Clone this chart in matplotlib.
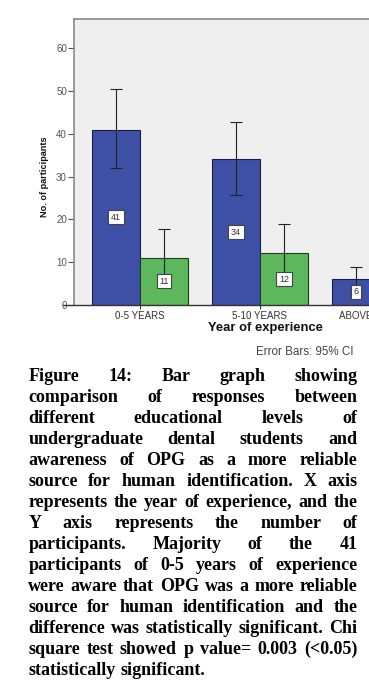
import numpy as np
import matplotlib
matplotlib.use('Agg')
import matplotlib.pyplot as plt
from matplotlib.font_manager import FontProperties

# ---------------------------
# Data
# ---------------------------
categories = ['0-5 YEARS', '5-10 YEARS', 'ABOVE 10 YEARS']
aware = [41, 34, 6]          # blue bars
not_aware = [11, 12, 3]      # green bars (third one is cropped out)
aware_ci_low = [32.0, 25.7, 2.8]
aware_ci_high = [50.6, 42.8, 8.9]
not_aware_ci_low = [4.2, 5.1, 0.5]
not_aware_ci_high = [17.8, 18.9, 7.0]
y_ticks = [0, 10, 20, 30, 40, 50, 60]

caption_lines = [
    'Figure 14: Bar graph showing',
    'comparison of responses between',
    'different educational levels of',
    'undergraduate dental students and',
    'awareness of OPG as a more reliable',
    'source for human identification. X axis',
    'represents the year of experience, and the',
    'Y axis represents the number of',
    'participants. Majority of the 41',
    'participants of 0-5 years of experience',
    'were aware that OPG was a more reliable',
    'source for human identification and the',
    'difference was statistically significant. Chi',
    'square test showed p value= 0.003 (<0.05)',
    'statistically significant.',
]

# ---------------------------
# Figure / axes
# ---------------------------
W, H = 369, 684
plt.rcParams['font.family'] = ['Liberation Sans', 'DejaVu Sans']
fig = plt.figure(figsize=(W / 100, H / 100), dpi=100)
# the axes run past the right edge: the original is a cropped screenshot
ax = fig.add_axes([74 / W, 1 - 304.7 / H, 372 / W, 286.2 / H])
ax.set_facecolor('#EFEFEF')

blue = '#3E50A6'
green = '#5DB75D'
x = np.arange(len(categories))
w = 0.4

ax.bar(x - w / 2, aware, w, color=blue, edgecolor='#1E1E3C', linewidth=0.8, zorder=2)
ax.bar(x + w / 2, not_aware, w, color=green, edgecolor='#1E3C1E', linewidth=0.8, zorder=2)

def add_errbars(xs, vals, lo, hi):
    vals = np.array(vals, dtype=float)
    yerr = [vals - np.array(lo), np.array(hi) - vals]
    ax.errorbar(xs, vals, yerr=yerr, fmt='none', ecolor='#222222',
                elinewidth=0.8, capsize=4.3, capthick=0.8, zorder=3)

add_errbars(x - w / 2, aware, aware_ci_low, aware_ci_high)
add_errbars(x + w / 2, not_aware, not_aware_ci_low, not_aware_ci_high)

box = dict(boxstyle='square,pad=0.3', facecolor='white', edgecolor='#444444', linewidth=0.8)
for xs, vals in [(x - w / 2, aware), (x + w / 2, not_aware)]:
    for xi, v in zip(xs, vals):
        ax.text(xi, v / 2, str(v), ha='center', va='center', fontsize=6.5,
                color='#333333', bbox=box, zorder=4)

ax.set_xlim(-0.55, len(categories) - 0.45)
ax.set_ylim(0, 67)
ax.set_yticks(y_ticks)
ax.set_xticks(x)
ax.set_xticklabels(categories)

ax.tick_params(axis='y', direction='out', length=4.3, width=0.8, color='#555555',
               labelcolor='#555555', labelsize=7, pad=0.8)
ax.tick_params(axis='x', direction='out', length=3, width=0.8, color='#333333',
               labelcolor='#333333', labelsize=7, pad=1.5)

for side in ['left', 'top', 'right']:
    ax.spines[side].set_color('#8A8A8A')
    ax.spines[side].set_linewidth(1.2)
ax.spines['bottom'].set_visible(False)
# x axis line sticks out a bit to the left of the y axis, as in SPSS
ax.axhline(0, xmin=-0.03, xmax=1, color='#333333', linewidth=1.0, clip_on=False, zorder=5)

ax.set_ylabel('No. of participants', fontsize=6.6, fontweight='bold', color='#111111')
ax.yaxis.label.set_va('center')
ax.yaxis.set_label_coords((44 - 74) / 372, (304.7 - 177) / 286.2)
ax.set_xlabel('Year of experience', fontsize=9.4, fontweight='bold', color='#111111')
ax.xaxis.label.set_va('center')
ax.xaxis.set_label_coords((265 - 74) / 372, -(328 - 304.7) / 286.2)

fig.text(354 / W, 1 - 352 / H, 'Error Bars: 95% CI', ha='right', va='center',
         fontsize=8.4, color='#444444')

# ---------------------------
# Justified caption
# ---------------------------
fp = FontProperties(family='Liberation Serif', weight='bold', size=13)
renderer = fig.canvas.get_renderer()
left, right = 28.3, 357.3
space_w = renderer.get_text_width_height_descent('a b', fp, ismath=False)[0] - \
    renderer.get_text_width_height_descent('ab', fp, ismath=False)[0]
for i, line in enumerate(caption_lines):
    words = line.split()
    widths = [renderer.get_text_width_height_descent(s, fp, ismath=False)[0] for s in words]
    if i == len(caption_lines) - 1 or len(words) == 1:
        gap = space_w
    else:
        gap = (right - left - sum(widths)) / (len(words) - 1)
    xpos = left
    ybase = 1 - (380.7 + i * 21.0) / H
    for s, wd in zip(words, widths):
        fig.text(xpos / W, ybase, s, fontproperties=fp, va='baseline', ha='left', color='black')
        xpos += wd + gap

fig.savefig('out.png', dpi=100)
